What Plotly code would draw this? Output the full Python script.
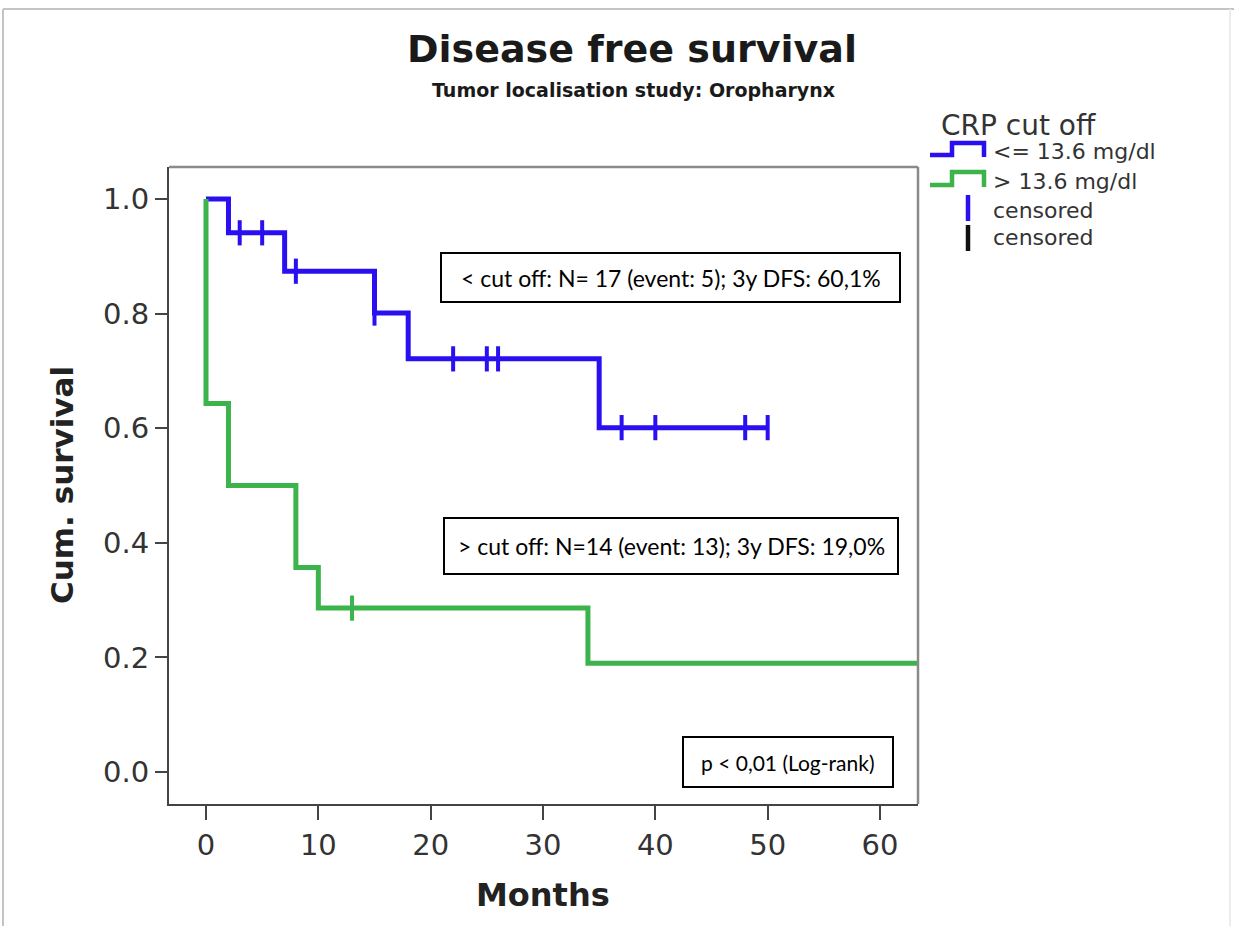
import plotly.graph_objects as go

# ---- Kaplan-Meier estimates (months, cumulative survival) ----
low_crp_times = [0, 2, 7, 15, 18, 35, 50]
low_crp_surv = [1.000, 0.941, 0.874, 0.801, 0.721, 0.601, 0.601]
low_crp_censored = [3, 5, 8, 15, 22, 25, 26, 37, 40, 48, 50]

high_crp_times = [0, 0, 2, 8, 10, 34, 70]
high_crp_surv = [1.000, 0.643, 0.500, 0.357, 0.286, 0.190, 0.190]
high_crp_censored = [13]

group_labels = ["<= 13.6 mg/dl", "> 13.6 mg/dl"]
x_ticks = [0, 10, 20, 30, 40, 50, 60]
y_ticks = [0.0, 0.2, 0.4, 0.6, 0.8, 1.0]

box_texts = [
    "< cut off: N= 17 (event: 5); 3y DFS: 60,1%",
    "> cut off: N=14 (event: 13); 3y DFS: 19,0%",
    "p < 0,01 (Log-rank)",
]

BLUE = "#2a10f0"
GREEN = "#3cb44b"
FONT = "DejaVu Sans"
TEXT = "#333333"


def step_value(times, surv, t):
    """Survival level of a right-continuous step curve at time t."""
    val = surv[0]
    for ti, si in zip(times, surv):
        if ti <= t:
            val = si
    return val


# plot-area edges in page pixels
L, R, T, B = 169, 918, 167, 804
W, H = 1234, 932


def px(x):
    return (x - L) / (R - L)


def py(y):
    return (B - y) / (B - T)


fig = go.Figure()

fig.add_trace(go.Scatter(
    x=low_crp_times, y=low_crp_surv, mode="lines", line_shape="hv",
    line=dict(color=BLUE, width=5), name=group_labels[0], showlegend=False,
))
fig.add_trace(go.Scatter(
    x=low_crp_censored,
    y=[step_value(low_crp_times, low_crp_surv, t) for t in low_crp_censored],
    mode="markers",
    marker=dict(symbol="line-ns", size=18, line=dict(color=BLUE, width=4)),
    showlegend=False,
))
fig.add_trace(go.Scatter(
    x=high_crp_times, y=high_crp_surv, mode="lines", line_shape="hv",
    line=dict(color=GREEN, width=5), name=group_labels[1], showlegend=False,
))
fig.add_trace(go.Scatter(
    x=high_crp_censored,
    y=[step_value(high_crp_times, high_crp_surv, t) for t in high_crp_censored],
    mode="markers",
    marker=dict(symbol="line-ns", size=18, line=dict(color=GREEN, width=4)),
    showlegend=False,
))

shapes = []
annotations = []

# top and right frame of the plot area
shapes.append(dict(type="line", xref="paper", yref="paper", x0=0, x1=1, y0=1, y1=1,
                   line=dict(color="#8a8a8a", width=2.5)))
shapes.append(dict(type="line", xref="paper", yref="paper", x0=1, x1=1, y0=0, y1=1,
                   line=dict(color="#8a8a8a", width=2.5)))

# outer page frame
shapes.append(dict(type="line", xref="paper", yref="paper", x0=px(3), x1=px(1234),
                   y0=py(9), y1=py(9), line=dict(color="#c4c4c4", width=2)))
shapes.append(dict(type="line", xref="paper", yref="paper", x0=px(3), x1=px(3),
                   y0=py(9), y1=py(926), line=dict(color="#c4c4c4", width=2)))
shapes.append(dict(type="line", xref="paper", yref="paper", x0=px(1230), x1=px(1230),
                   y0=py(9), y1=py(926), line=dict(color="#ececec", width=2)))

# text boxes inside the plot
boxes = [
    (441, 900, 253, 302, 23),
    (444, 898, 518, 574, 23),
    (683, 893, 737, 787, 21),
]
for (x0, x1, y0, y1, fs), txt in zip(boxes, box_texts):
    shapes.append(dict(type="rect", xref="paper", yref="paper",
                       x0=px(x0), x1=px(x1), y0=py(y1), y1=py(y0),
                       line=dict(color="black", width=2), fillcolor="white", layer="above"))
    annotations.append(dict(xref="paper", yref="paper", x=px((x0 + x1) / 2), y=py((y0 + y1) / 2),
                            text=txt, showarrow=False, xanchor="center", yanchor="middle",
                            font=dict(family="Lato", size=fs, color="black")))

# titles
annotations.append(dict(xref="paper", yref="paper", x=px(632), y=py(49), text="<b>Disease free survival</b>",
                        showarrow=False, xanchor="center", yanchor="middle",
                        font=dict(family=FONT, size=38, color="#1a1a1a")))
annotations.append(dict(xref="paper", yref="paper", x=px(633), y=py(90),
                        text="<b>Tumor localisation study: Oropharynx</b>",
                        showarrow=False, xanchor="center", yanchor="middle",
                        font=dict(family=FONT, size=19, color="#1a1a1a")))

# axis titles
annotations.append(dict(xref="paper", yref="paper", x=px(62), y=py(485), text="<b>Cum. survival</b>",
                        textangle=-90, showarrow=False, xanchor="center", yanchor="middle",
                        font=dict(family=FONT, size=31, color="#222222")))
annotations.append(dict(xref="paper", yref="paper", x=px(543), y=py(895), text="<b>Months</b>",
                        showarrow=False, xanchor="center", yanchor="middle",
                        font=dict(family=FONT, size=32, color="#222222")))

# legend: title, step icons and censor ticks
annotations.append(dict(xref="paper", yref="paper", x=px(939), y=py(125), text="CRP cut off",
                        showarrow=False, xanchor="left", yanchor="middle",
                        font=dict(family=FONT, size=28, color=TEXT)))
legend_rows = [
    (BLUE, 155, 143, group_labels[0], 152),
    (GREEN, 185, 172, group_labels[1], 181),
]
for color, y_low, y_high, label, y_text in legend_rows:
    path = (f"M {px(930)},{py(y_low)} L {px(952)},{py(y_low)} L {px(952)},{py(y_high)} "
            f"L {px(984)},{py(y_high)} L {px(984)},{py(y_low + 2)}")
    shapes.append(dict(type="path", xref="paper", yref="paper", path=path,
                       line=dict(color=color, width=4.5)))
    annotations.append(dict(xref="paper", yref="paper", x=px(991), y=py(y_text), text=label,
                            showarrow=False, xanchor="left", yanchor="middle",
                            font=dict(family=FONT, size=22, color=TEXT)))
for color, y0, y1, y_text in [(BLUE, 195, 221, 210), ("#111111", 225, 251, 238)]:
    shapes.append(dict(type="line", xref="paper", yref="paper", x0=px(968), x1=px(968),
                       y0=py(y0), y1=py(y1), line=dict(color=color, width=4.5)))
    annotations.append(dict(xref="paper", yref="paper", x=px(991), y=py(y_text), text="censored",
                            showarrow=False, xanchor="left", yanchor="middle",
                            font=dict(family=FONT, size=22, color=TEXT)))

# pixels per axis unit
x_scale = (880 - 206) / 60.0
y_scale = (772 - 199) / 1.0

fig.update_layout(
    width=W, height=H,
    margin=dict(l=L, r=W - R, t=T, b=H - B, pad=0),
    paper_bgcolor="white", plot_bgcolor="white",
    showlegend=False,
    shapes=shapes, annotations=annotations,
    xaxis=dict(
        range=[(L - 206) / x_scale, (R - 206) / x_scale],
        tickvals=x_ticks, ticks="outside", ticklen=14, tickwidth=2, tickcolor="#444444",
        showline=True, linecolor="#444444", linewidth=2, mirror=False,
        showgrid=False, zeroline=False,
        tickfont=dict(family=FONT, size=29, color=TEXT),
    ),
    yaxis=dict(
        range=[-(B - 772) / y_scale, 1 + (199 - T) / y_scale],
        tickvals=y_ticks, tickformat=".1f", ticks="outside", ticklen=12, tickwidth=2,
        tickcolor="#444444",
        showline=True, linecolor="#444444", linewidth=2, mirror=False,
        showgrid=False, zeroline=False,
        tickfont=dict(family=FONT, size=29, color=TEXT),
    ),
)

fig.write_html("out.html")
